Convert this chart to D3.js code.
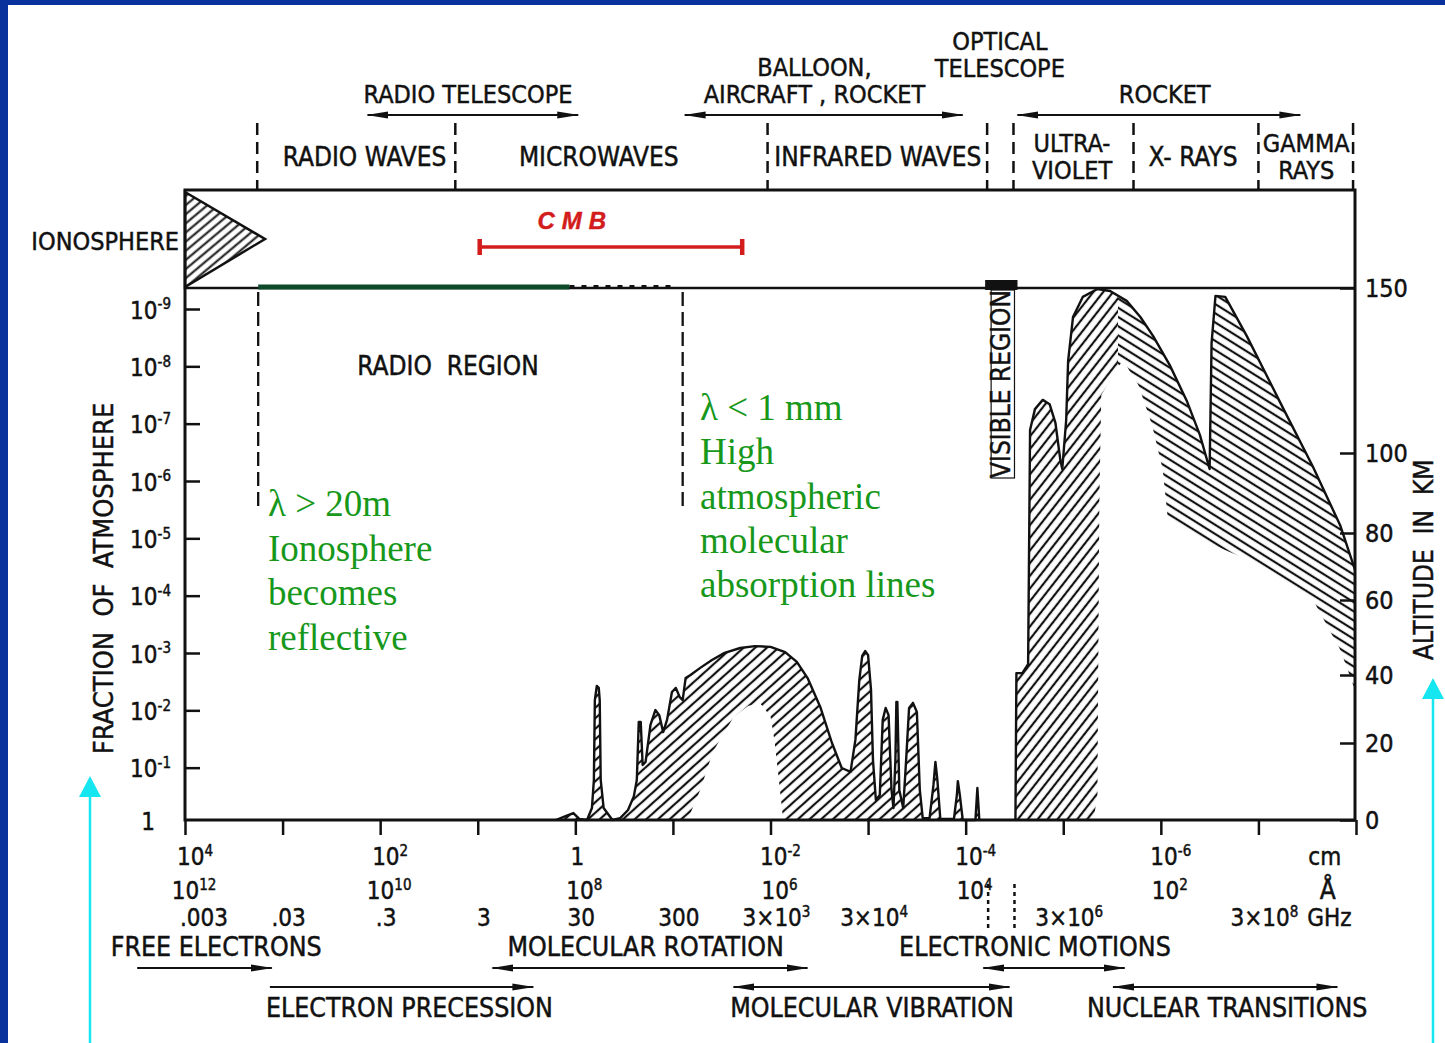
<!DOCTYPE html>
<html>
<head>
<meta charset="utf-8">
<script src="https://d3js.org/d3.v7.min.js"></script>
<style>
  body { margin: 0; background: #fff; }
  svg text { font-family: "Liberation Sans Narrow", "Arial Narrow", "DejaVu Sans Condensed", "Liberation Sans", sans-serif; fill: #111; stroke: #111; stroke-width: 0.45px; }
  svg text.note { font-family: "Liberation Serif", "Times New Roman", serif; fill: #17981b; stroke: none; font-size: 37px; }
</style>
</head>
<body>
<svg id="chart" width="1445" height="1043"></svg>
<script>
// all wavelengths are log10(lambda / cm)
const decades = d3.range(4, -9, -1);
const cmExps = [4, 2, 0, -2, -4, -6];
const angstromExps = [12, 10, 8, 6, 4, 2];
const ghzAt = [4, 3, 2, 1, 0, -1, -2, -3, -5, -7];
const ghzMant = [".003", ".03", ".3", "3", "30", "300", "3×10", "3×10", "3×10", "3×10"];
const ghzPow = ["", "", "", "", "", "", "3", "4", "6", "8"];

const fractionTicks = [1e-1, 1e-2, 1e-3, 1e-4, 1e-5, 1e-6, 1e-7, 1e-8, 1e-9];
const altitudeTicks = [0, 20, 40, 60, 80, 100, 150];

// spectral bands across the top
const bandEdges = [3.26, 1.23, -1.97, -4.22, -4.49, -5.72, -7.00, -7.97];
const bandNames = [["RADIO WAVES"], ["MICROWAVES"], ["INFRARED WAVES"], [], ["ULTRA-", "VIOLET"], ["X- RAYS"], ["GAMMA", "RAYS"]];
const bandLabelAt = [2.16, -0.24, -3.10, -4.35, -5.09, -6.33, -7.49];

// observing platforms
const platformNames = [["RADIO TELESCOPE"], ["BALLOON,", "AIRCRAFT , ROCKET"], ["OPTICAL", "TELESCOPE"], ["ROCKET"]];
const platformLabelAt = [1.10, -2.45, -4.35, -6.04];
const platformSpans = [[2.13, -0.03], [-1.12, -3.97], null, [-4.53, -7.43]];

// physical processes under the axis
const processNames = ["FREE ELECTRONS", "ELECTRON PRECESSION", "MOLECULAR ROTATION", "MOLECULAR VIBRATION", "ELECTRONIC MOTIONS", "NUCLEAR TRANSITIONS"];
const processLabelAt = [3.68, 1.70, -0.72, -3.04, -4.71, -6.68];
const processSpans = [[4.49, 3.11], [3.13, 0.43], [0.85, -2.38], [-1.62, -4.45], [-4.18, -5.63], [-5.51, -7.81]];
const processRow = [0, 1, 0, 1, 0, 1];
const processBothHeads = [false, false, true, true, true, true];

// microwave / infrared absorption (altitude in km where radiation is absorbed)
const mwIrLogLambda = [0.20, 0.10, 0.02, -0.04, -0.12, -0.17, -0.19, -0.20, -0.22, -0.24, -0.25, -0.26, -0.29, -0.38,
  -0.46, -0.54, -0.60, -0.63, -0.65, -0.67, -0.69, -0.72, -0.77, -0.82, -0.86, -0.90, -0.94, -0.99, -1.03, -1.07, -1.10,
  -1.13, -1.18, -1.28, -1.40, -1.53, -1.69, -1.84, -2.00, -2.15, -2.27, -2.38, -2.51, -2.63, -2.73, -2.82, -2.87, -2.91,
  -2.94, -2.97, -3.00, -3.03, -3.05, -3.08, -3.12, -3.15, -3.18, -3.21, -3.24, -3.26, -3.28, -3.29, -3.30, -3.32, -3.36,
  -3.39, -3.42, -3.46, -3.50, -3.53, -3.56, -3.63, -3.67, -3.69, -3.71, -3.74, -3.88, -3.91, -3.92, -3.94, -3.97, -4.10,
  -4.12, -4.14];
const mwIrAltitude = [0, 1.0, 1.8, 0.3, 0, 3.1, 10.4, 32.6, 36.8, 36.2, 32.6, 10.4, 3.1, 0,
  0.5, 2.6, 6.2, 10.4, 26.2, 26.2, 14.3, 15.1, 25.3, 29.7, 28.2, 23.2, 26.8, 35.0, 36.2, 33.5, 32.6,
  39.1, 40.0, 41.9, 44.0, 45.9, 47.2, 47.7, 47.5, 46.1, 43.5, 39.1, 30.6, 20.0, 13.5, 12.5, 20.9, 38.5,
  45.1, 46.4, 45.3, 35.6, 15.6, 5.2, 6.5, 26.8, 30.3, 28.2, 7.8, 3.1, 15.6, 32.1, 32.1, 7.8, 3.1,
  15.6, 30.3, 31.8, 29.1, 7.8, 0.5, 0.5, 9.1, 15.1, 10.4, 0.3, 0.3, 6.5, 10.1, 6.5, 0, 0,
  8.3, 0];
// lower edge of the hatched band (the clear window inside the dome)
const mwIrFloorLogLambda = [-1.15, -1.28, -1.41, -1.62, -1.77, -1.89, -2.00, -2.04, -2.08, -2.13];
const mwIrFloorAltitude = [0, 7.8, 17.7, 27.6, 30.9, 31.8, 27.9, 20.9, 11.7, 0];

// ultraviolet / X-ray / gamma absorption
const uvLogLambda = [-4.51, -4.52, -4.58, -4.64, -4.66, -4.71, -4.79, -4.86, -4.92, -4.97, -4.99, -5.03, -5.05, -5.10,
  -5.20, -5.35, -5.48, -5.65, -5.79, -5.92, -6.09, -6.27, -6.40, -6.50, -6.52, -6.56, -6.66, -6.88, -7.22, -7.56,
  -7.84, -7.99];
const uvAltitude = [0, 40.5, 40.5, 42.9, 107.0, 113.3, 116.1, 114.8, 109.1, 98.3, 96.0, 110.0, 127.9, 141.2,
  147.3, 149.7, 149.1, 146.1, 141.2, 135.5, 126.7, 115.5, 105.5, 96.0, 133.3, 147.6, 147.3, 135.5, 115.5, 96.5,
  81.8, 69.0];
const uvFloorLogLambda = [-5.31, -5.35, -5.37, -5.39, -5.61, -5.77, -5.91, -6.02, -6.07, -6.30, -6.54, -7.02, -7.56, -7.84, -7.99];
const uvFloorAltitude = [0, 6.5, 88.3, 117.6, 128.2, 120.6, 108.5, 95.8, 83.8, 80.0, 76.4, 70.4, 60.0, 46.7, 35.6];
const uvHatchSplit = -5.56;

const ionosphereEdge = 3.18;
const cmbSpan = [0.98, -1.71];
const cmbLabelAt = 0.0;
const radioWindow = [3.25, 0.06];
const radioWindowFaint = [0.06, -1.02];
const ionosphereCut = 3.25;
const absorptionCut = -1.10;

const noteLeft = ["λ > 20m", "Ionosphere", "becomes", "reflective"];
const noteRight = ["λ < 1 mm", "High", "atmospheric", "molecular", "absorption lines"];

// ---------------------------------------------------------------
const svg = d3.select('#chart');
const W = 1445, H = 1043;
const frame = { left: 185, right: 1355, top: 190, bottom: 820 };
const ink = '#111';

const x = d3.scaleLinear().domain([4, -8]).range([185, 1356]);
const alt = d3.scaleLinear().domain(altitudeTicks).range([820, 743, 675, 600, 533, 453, 288]);
const frac = d3.scaleLog().domain([1, 1e-9]).range([825, 309]);

// slide border
svg.append('rect').attr('x', 0).attr('y', 0).attr('width', W).attr('height', 5).attr('fill', '#0a329c');
svg.append('rect').attr('x', 0).attr('y', 0).attr('width', 8).attr('height', H).attr('fill', '#0a329c');

const defs = svg.append('defs');
function hatch(id, angle, gap, width) {
  const p = defs.append('pattern').attr('id', id).attr('patternUnits', 'userSpaceOnUse')
    .attr('width', 20).attr('height', gap).attr('patternTransform', 'rotate(' + angle + ')');
  p.append('line').attr('x1', -1).attr('x2', 21).attr('y1', gap / 2).attr('y2', gap / 2)
    .attr('stroke', ink).attr('stroke-width', width);
}
hatch('hatchDome', -42, 7.8, 2.2);
hatch('hatchUv', -52, 7.8, 2.2);
hatch('hatchX', 32, 7.8, 2.2);
hatch('hatchIono', -40, 7, 2);

defs.append('marker').attr('id', 'head').attr('viewBox', '0 0 22 10')
  .attr('refX', 21).attr('refY', 5).attr('markerWidth', 22).attr('markerHeight', 10)
  .attr('markerUnits', 'userSpaceOnUse').attr('orient', 'auto-start-reverse')
  .append('path').attr('d', 'M0,1.5 L22,5 L0,8.5 Z').attr('fill', ink);

defs.append('clipPath').attr('id', 'uvLeft').append('rect')
  .attr('x', frame.left).attr('y', 0).attr('width', x(uvHatchSplit) - frame.left).attr('height', H);
defs.append('clipPath').attr('id', 'uvRight').append('rect')
  .attr('x', x(uvHatchSplit)).attr('y', 0).attr('width', frame.right - x(uvHatchSplit)).attr('height', H);

const zip = (a, b) => a.map((v, i) => [v, b[i]]);
const line = d3.line().x(d => x(d[0])).y(d => alt(d[1]));

// ---- absorption curves
const domeUpper = zip(mwIrLogLambda, mwIrAltitude);
const domeFloor = zip(mwIrFloorLogLambda, mwIrFloorAltitude);
svg.append('path').attr('d', line(domeFloor.concat(domeUpper.slice().reverse())) + 'Z')
  .attr('fill', 'url(#hatchDome)');
svg.append('path').attr('d', line(domeUpper)).attr('fill', 'none')
  .attr('stroke', ink).attr('stroke-width', 2.4).attr('stroke-linejoin', 'round');

const uvUpper = zip(uvLogLambda, uvAltitude);
const uvFloor = zip(uvFloorLogLambda, uvFloorAltitude);
const uvShape = line(uvUpper.concat(uvFloor.slice().reverse())) + 'Z';
svg.append('path').attr('d', uvShape).attr('fill', 'url(#hatchUv)').attr('clip-path', 'url(#uvLeft)');
svg.append('path').attr('d', uvShape).attr('fill', 'url(#hatchX)').attr('clip-path', 'url(#uvRight)');
svg.append('path').attr('d', line(uvUpper)).attr('fill', 'none')
  .attr('stroke', ink).attr('stroke-width', 2.4).attr('stroke-linejoin', 'round');

// ---- frame
svg.append('rect').attr('x', frame.left).attr('y', frame.top)
  .attr('width', frame.right - frame.left).attr('height', frame.bottom - frame.top)
  .attr('fill', 'none').attr('stroke', ink).attr('stroke-width', 3);
svg.append('line').attr('x1', frame.left).attr('x2', frame.right)
  .attr('y1', alt(150)).attr('y2', alt(150)).attr('stroke', ink).attr('stroke-width', 2.5);

// ionosphere wedge
const bandMid = (frame.top + alt(150)) / 2;
svg.append('path')
  .attr('d', d3.line()([[x(4), frame.top + 2], [x(ionosphereEdge), bandMid], [x(4), alt(150) - 1]]) + 'Z')
  .attr('fill', 'url(#hatchIono)').attr('stroke', ink).attr('stroke-width', 2.5);
svg.append('text').attr('x', frame.left - 6).attr('y', bandMid + 11).attr('text-anchor', 'end')
  .attr('font-size', 25).text('IONOSPHERE');

// radio window along the top of the atmosphere
svg.append('line').attr('x1', x(radioWindow[0])).attr('x2', x(radioWindow[1]))
  .attr('y1', alt(150) - 1).attr('y2', alt(150) - 1).attr('stroke', '#0c4a2a').attr('stroke-width', 5);
svg.append('line').attr('x1', x(radioWindowFaint[0])).attr('x2', x(radioWindowFaint[1]))
  .attr('y1', alt(150) - 1).attr('y2', alt(150) - 1).attr('stroke', ink).attr('stroke-width', 4)
  .attr('stroke-dasharray', '5,7');

// CMB
const cmbY = 247;
svg.append('line').attr('x1', x(cmbSpan[0])).attr('x2', x(cmbSpan[1])).attr('y1', cmbY).attr('y2', cmbY)
  .attr('stroke', '#d31c1c').attr('stroke-width', 3.5);
cmbSpan.forEach(v => svg.append('line').attr('x1', x(v)).attr('x2', x(v)).attr('y1', cmbY - 8).attr('y2', cmbY + 8)
  .attr('stroke', '#d31c1c').attr('stroke-width', 4.5));
svg.append('text').attr('x', x(cmbLabelAt)).attr('y', 229).attr('text-anchor', 'middle')
  .style('font-family', '"Liberation Sans", sans-serif').style('fill', '#d31c1c').style('stroke', '#d31c1c')
  .attr('font-size', 24).attr('font-weight', 'bold').attr('font-style', 'italic')
  .attr('letter-spacing', 7).text('CMB');

// visible region marker
const vx0 = x(bandEdges[3]), vx1 = x(bandEdges[4]);
svg.append('rect').attr('x', vx0 - 2).attr('y', alt(150) - 8).attr('width', vx1 - vx0 + 6).attr('height', 10).attr('fill', ink);
svg.append('rect').attr('x', vx0 + 4).attr('y', alt(150) + 2).attr('width', vx1 - vx0 - 3).attr('height', 188)
  .attr('fill', '#fff').attr('stroke', ink).attr('stroke-width', 1.2);
svg.append('text').attr('transform', 'translate(' + ((vx0 + vx1) / 2 + 10) + ',' + (alt(150) + 96) + ') rotate(-90)')
  .attr('text-anchor', 'middle').attr('font-size', 26).text('VISIBLE REGION');

// dashed limits inside the plot
[ionosphereCut, absorptionCut].forEach(v => svg.append('line')
  .attr('x1', x(v)).attr('x2', x(v)).attr('y1', alt(150) + 4).attr('y2', 511)
  .attr('stroke', ink).attr('stroke-width', 2.3).attr('stroke-dasharray', '14,6'));

svg.append('text').attr('x', 448).attr('y', 375).attr('text-anchor', 'middle')
  .attr('font-size', 26).style('white-space', 'pre').text('RADIO  REGION');

// ---- axes
const sup = (sel, base, exp, size) => {
  sel.text(null);
  sel.append('tspan').text(base);
  sel.append('tspan').attr('dy', -size * 0.62).attr('font-size', size).text(exp);
};
// several lines in one text element, centred on cx
const stacked = (names, cx, lastBaseline, gap, size) => {
  const t = svg.append('text').attr('text-anchor', 'middle').attr('font-size', size);
  names.forEach((n, j) => t.append('tspan').attr('x', cx)
    .attr('y', lastBaseline - (names.length - 1 - j) * gap).text(n));
  return t;
};

const gl = svg.append('g').attr('transform', 'translate(' + frame.left + ',0)')
  .call(d3.axisLeft(frac).tickValues(fractionTicks).tickSizeInner(-15).tickSizeOuter(0).tickPadding(14));
gl.select('.domain').remove();
gl.selectAll('.tick line').attr('stroke', ink).attr('stroke-width', 2.5);
gl.selectAll('.tick text').attr('font-size', 24).attr('dy', '0.38em').each(function (d) {
  sup(d3.select(this), '10', String(Math.round(Math.log10(d))), 15);
});
svg.append('text').attr('x', 148).attr('y', frac(1) + 5).attr('text-anchor', 'middle').attr('font-size', 24).text('1');
svg.append('text').attr('transform', 'translate(113,' + (frac(1e-4) * 0.7 + frac(1e-5) * 0.3) + ') rotate(-90)')
  .attr('text-anchor', 'middle').attr('font-size', 27)
  .style('white-space', 'pre').text('FRACTION  OF  ATMOSPHERE');

const gr = svg.append('g').attr('transform', 'translate(' + frame.right + ',0)')
  .call(d3.axisRight(alt).tickValues(altitudeTicks).tickSizeInner(-15).tickSizeOuter(0).tickPadding(10));
gr.select('.domain').remove();
gr.selectAll('.tick line').attr('stroke', ink).attr('stroke-width', 2.5);
gr.selectAll('.tick text').attr('font-size', 25).attr('font-family', null);
svg.append('text').attr('transform', 'translate(1433,' + alt(72) + ') rotate(-90)')
  .attr('text-anchor', 'middle').attr('font-size', 26)
  .style('white-space', 'pre').text('ALTITUDE  IN  KM');

const gb = svg.append('g').attr('transform', 'translate(0,' + frame.bottom + ')')
  .call(d3.axisBottom(x).tickValues(decades).tickSize(15).tickFormat(''));
gb.select('.domain').remove();
gb.selectAll('.tick line').attr('stroke', ink).attr('stroke-width', 2.5);

// wavelength / angstrom / frequency rows
const rowCm = 865, rowA = 899, rowGhz = 926;
cmExps.forEach(e => {
  const t = svg.append('text').attr('y', rowCm).attr('font-size', 24).attr('text-anchor', 'middle');
  if (e === 0) t.attr('x', x(e) + 2).text('1');
  else t.attr('x', x(e) + 10).call(s => sup(s, '10', String(e), 15));
});
angstromExps.forEach(e => {
  svg.append('text').attr('y', rowA).attr('font-size', 24).attr('text-anchor', 'middle')
    .attr('x', x(e - 8) + 9).call(s => sup(s, '10', String(e), 15));
});
ghzAt.forEach((e, i) => {
  const t = svg.append('text').attr('y', rowGhz).attr('font-size', 24)
    .attr('text-anchor', i === 0 ? 'start' : 'middle').attr('x', i === 0 ? x(e) - 5 : x(e) + 6);
  if (ghzPow[i]) sup(t, ghzMant[i], ghzPow[i], 15); else t.text(ghzMant[i]);
});
svg.append('text').attr('x', x(-7.68)).attr('y', rowCm).attr('font-size', 24).attr('text-anchor', 'middle').text('cm');
svg.append('text').attr('x', x(-7.71)).attr('y', rowA).attr('font-size', 26).attr('text-anchor', 'middle').text('Å');
svg.append('text').attr('x', x(-7.50)).attr('y', rowGhz).attr('font-size', 24).text('GHz');
[bandEdges[3], bandEdges[4]].forEach(v => svg.append('line')
  .attr('x1', x(v) + 1).attr('x2', x(v) + 1).attr('y1', 884).attr('y2', 930)
  .attr('stroke', ink).attr('stroke-width', 2.5).attr('stroke-dasharray', '4,4'));

// ---- band labels above the frame
bandEdges.forEach(v => svg.append('line').attr('x1', x(v)).attr('x2', x(v)).attr('y1', 123).attr('y2', frame.top)
  .attr('stroke', ink).attr('stroke-width', 2.5).attr('stroke-dasharray', '12,7'));
bandNames.forEach((names, i) => {
  if (!names.length) return;
  if (names.length === 1) stacked(names, x(bandLabelAt[i]), 166, 27, 26);
  else stacked(names, x(bandLabelAt[i]), 179, 27, 25);
});

// ---- platforms (the optical telescope label sits one line higher)
platformNames.forEach((names, i) => {
  const s = platformSpans[i];
  stacked(names, x(platformLabelAt[i]), s ? 103 : 77, 27, 25);
  if (s) svg.append('line').attr('x1', x(s[0])).attr('x2', x(s[1])).attr('y1', 115).attr('y2', 115)
    .attr('stroke', ink).attr('stroke-width', 2)
    .attr('marker-start', 'url(#head)').attr('marker-end', 'url(#head)');
});

// ---- processes
processNames.forEach((n, i) => {
  const row = processRow[i];
  svg.append('text').attr('x', x(processLabelAt[i])).attr('y', row === 0 ? 956 : 1017)
    .attr('text-anchor', 'middle').attr('font-size', 26.5).text(n);
  const s = processSpans[i];
  const ay = row === 0 ? 968 : 987;
  const l = svg.append('line').attr('x1', x(s[0])).attr('x2', x(s[1])).attr('y1', ay).attr('y2', ay)
    .attr('stroke', ink).attr('stroke-width', 2).attr('marker-end', 'url(#head)');
  if (processBothHeads[i]) l.attr('marker-start', 'url(#head)');
});

// ---- green notes
noteLeft.forEach((t, i) => svg.append('text').attr('class', 'note')
  .attr('x', x(3.15)).attr('y', 516 + i * 44.5).text(t));
noteRight.forEach((t, i) => svg.append('text').attr('class', 'note')
  .attr('x', 700).attr('y', 420 + i * 44.3).text(t));

// ---- cyan pointers
const cyan = '#16e6ef';
[[90, 776], [1433, 678]].forEach(([cx, tip]) => {
  svg.append('line').attr('x1', cx).attr('x2', cx).attr('y1', H).attr('y2', tip + 15)
    .attr('stroke', cyan).attr('stroke-width', 2.5);
  svg.append('path').attr('d', d3.line()([[cx, tip], [cx - 11, tip + 21], [cx + 11, tip + 21]]) + 'Z')
    .attr('fill', cyan);
});
</script>
</body>
</html>
